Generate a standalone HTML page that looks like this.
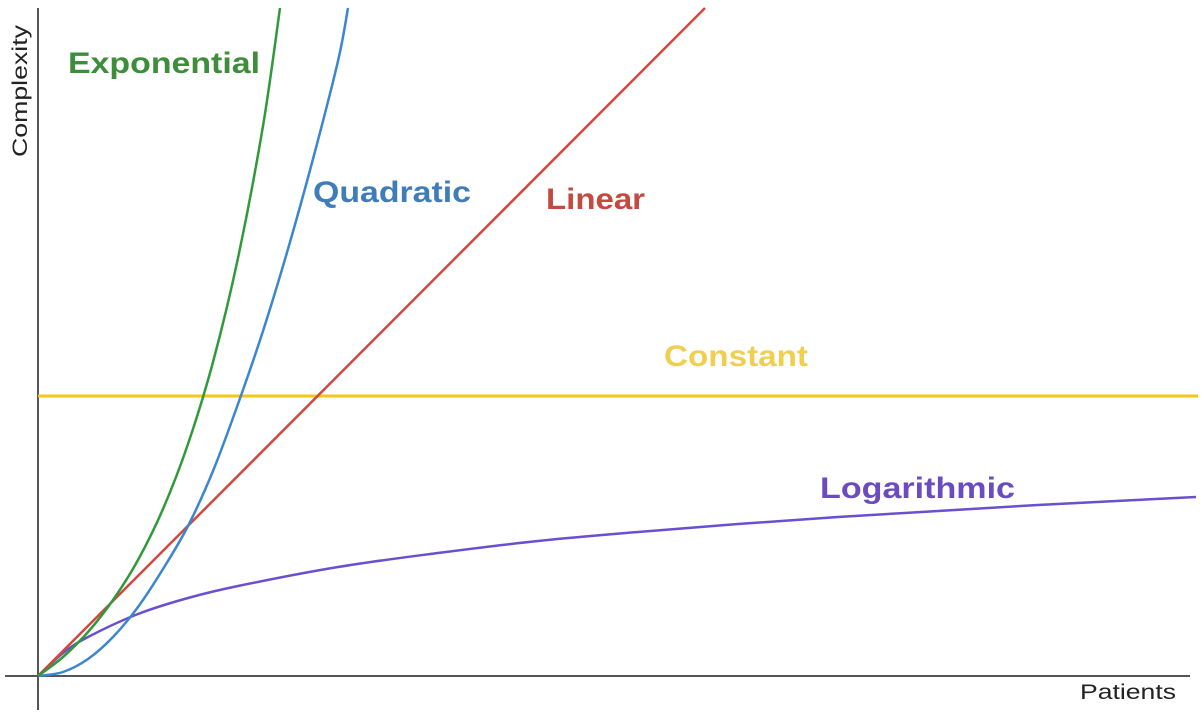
<!DOCTYPE html>
<html><head><meta charset="utf-8"><style>
body{margin:0;background:#fff;width:1204px;height:712px;overflow:hidden}
svg{display:block}
text{font-family:"Liberation Sans",sans-serif}
.lbl{font-weight:bold;font-size:30px}
</style></head><body>
<svg id="chart" width="1204" height="712" viewBox="0 0 1204 712">
<line x1="38" y1="8" x2="38" y2="710" stroke="#555" stroke-width="2"/>
<line x1="5" y1="676" x2="1190" y2="676" stroke="#555" stroke-width="2"/>
<text transform="translate(27,157) rotate(-90)" font-size="21" fill="#222" textLength="132" lengthAdjust="spacingAndGlyphs">Complexity</text>
<text x="1080" y="699" font-size="21" fill="#222" textLength="96" lengthAdjust="spacingAndGlyphs">Patients</text>
<g id="series"></g>
<text class="lbl" x="68" y="73" fill="#3e8d3a" textLength="192" lengthAdjust="spacingAndGlyphs">Exponential</text>
<text class="lbl" x="313" y="202" fill="#3e7cba" textLength="158" lengthAdjust="spacingAndGlyphs">Quadratic</text>
<text class="lbl" x="546" y="209" fill="#c44a40" textLength="99" lengthAdjust="spacingAndGlyphs">Linear</text>
<text class="lbl" x="664" y="366" fill="#f0cf50" textLength="144" lengthAdjust="spacingAndGlyphs">Constant</text>
<text class="lbl" x="820" y="498" fill="#6a4bc2" textLength="195" lengthAdjust="spacingAndGlyphs">Logarithmic</text>
</svg>
<script>
const linX=[0,667];
const linY=[0,668];
const quadX=[0,25,50,75,100,125,150,175,200,225,250,275,300,310];
const quadY=[0,4,17,39,69,107,150,205,272,345,427,517,615,668];
const expX=[0,25,50,75,100,125,150,175,200,225,242];
const expY=[0,19,44,76,116,167,232,314,418,550,668];
const logX=[0,25,50,100,150,200,300,400,500,600,700,800,900,1000,1158];
const logY=[0,23,39,62,78,90,109,123,135,144,152,159,165,171,179];
const constX=[0,1160];
const constY=[280,280];
const ox=38, oy=676;
function sx(v){return ox+v;}
function sy(v){return oy-v;}
const g=document.getElementById('series');
function draw(xs,ys,color,name,w){
  const pts=xs.map((x,i)=>[sx(x),sy(ys[i])]);
  let d='M'+pts[0][0]+','+pts[0][1];
  for(let i=0;i<pts.length-1;i++){
    const p0=pts[i-1]||pts[i],p1=pts[i],p2=pts[i+1],p3=pts[i+2]||p2;
    const c1=[p1[0]+(p2[0]-p0[0])/6,p1[1]+(p2[1]-p0[1])/6];
    const c2=[p2[0]-(p3[0]-p1[0])/6,p2[1]-(p3[1]-p1[1])/6];
    d+=' C'+c1+' '+c2+' '+p2;
  }
  const p=document.createElementNS('http://www.w3.org/2000/svg','path');
  p.setAttribute('d',d);
  p.setAttribute('fill','none');p.setAttribute('stroke',color);p.setAttribute('stroke-width',w);
  
  
  g.appendChild(p);
}
draw(constX,constY,'#f6c515','line-constant',3);
draw(logX,logY,'#6a4fcf','line-logarithmic',2.5);
draw(linX,linY,'#d5463c','line-linear',2.5);
draw(quadX,quadY,'#3a86d0','line-quadratic',2.5);
draw(expX,expY,'#2f9a3a','line-exponential',2.5);
</script>
</body></html>
